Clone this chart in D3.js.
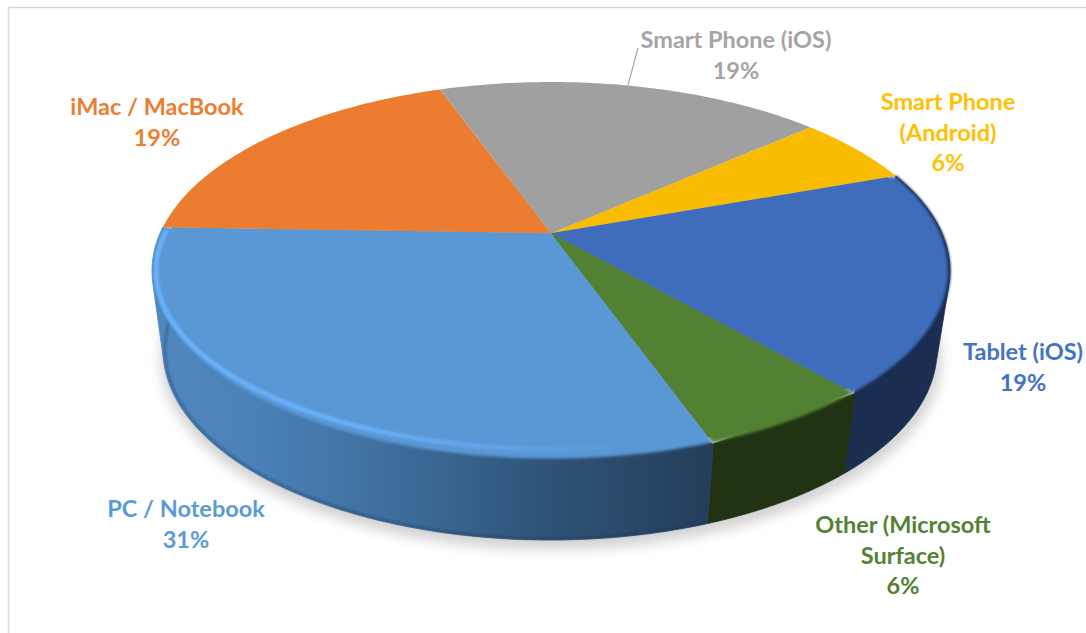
<!DOCTYPE html>
<html>
<head>
<meta charset="utf-8">
<script src="https://cdnjs.cloudflare.com/ajax/libs/d3/7.8.5/d3.min.js"></script>
<style>
  html, body { margin: 0; padding: 0; background: #fff; }
  svg { display: block; }
  text { font-family: Lato, "Open Sans", sans-serif; font-weight: 700; font-size: 23.5px; text-anchor: middle; }
</style>
</head>
<body>
<div id="canvas"></div>
<script>
// slices, clockwise from the PC / Other boundary
const categories = ["PC / Notebook", "iMac / MacBook", "Smart Phone (iOS)", "Smart Phone (Android)", "Tablet (iOS)", "Other (Microsoft Surface)"];
const values = [31, 19, 19, 6, 19, 6];
const labelLines = [
  ["PC / Notebook"],
  ["iMac / MacBook"],
  ["Smart Phone (iOS)"],
  ["Smart Phone", "(Android)"],
  ["Tablet (iOS)"],
  ["Other (Microsoft", "Surface)"]
];

const faceColors = ["#5a97d5", "#eb7c30", "#a0a0a0", "#f9bc00", "#3f6dbc", "#538133"];
const textColors = ["#5b9bd5", "#ed7d31", "#a5a5a5", "#ffc000", "#4472c4", "#548235"];
const sideColors = ["url(#pcSide)", "#a8551f", "#6e6e6e", "#ad8500", "#1b2d50", "#213312"];
const labelX = [186, 157, 736, 948, 1023, 903];
const labelY = [517, 115, 48, 110, 360, 533];

const width = 1086;
const height = 633;
const lineGap = 30.5;
const tilt = -0.2;      // where the pie centre sits inside the ellipse
const startDeg = 160.3;

const svg = d3.select("#canvas").append("svg").attr("width", width).attr("height", height);
const defs = svg.append("defs");

function blur(id, dev) {
  defs.append("filter").attr("id", id)
    .attr("color-interpolation-filters", "sRGB")
    .attr("x", "-10%").attr("y", "-10%").attr("width", "120%").attr("height", "120%")
    .append("feGaussianBlur").attr("stdDeviation", dev);
}
blur("soft8", 6);
blur("soft2", 1.6);
blur("soft1", 0.9);

const pcSide = defs.append("linearGradient").attr("id", "pcSide")
  .attr("gradientUnits", "userSpaceOnUse").attr("x1", 152).attr("x2", 712).attr("y1", 0).attr("y2", 0);
[[0, "#5088c0"], [0.2, "#4a80b6"], [0.45, "#3d6c9a"], [0.7, "#2f5477"], [1, "#243e5a"]].forEach(s =>
  pcSide.append("stop").attr("offset", s[0]).attr("stop-color", s[1]));

const hiFade = defs.append("linearGradient").attr("id", "hiFade")
  .attr("gradientUnits", "userSpaceOnUse").attr("x1", 152).attr("x2", 640).attr("y1", 0).attr("y2", 0);
[[0, 1], [0.4, 0.95], [0.7, 0.5], [1, 0]].forEach(s =>
  hiFade.append("stop").attr("offset", s[0]).attr("stop-color", "#69b1f7").attr("stop-opacity", s[1]));

// scales from the unit disc to the screen: top face, base, highlight on the bevel
const rim = { x: d3.scaleLinear([-1, 1], [152, 950]), y: d3.scaleLinear([-1, 1], [82, 460]) };
const base = { x: d3.scaleLinear([-1, 1], [163, 937]), y: d3.scaleLinear([-1, 1], [160, 540]) };
const bevel = { x: d3.scaleLinear([-1, 1], [156, 946]), y: d3.scaleLinear([-1, 1], [93, 449]) };
const ground = { x: d3.scaleLinear([-1, 1], [160, 942]), y: d3.scaleLinear([-1, 1], [168, 550]) };

// perspective: moves the disc centre up but keeps the rim on the ellipse
function project(scale, angle, r) {
  const u = r * Math.sin(angle);
  const v = -r * Math.cos(angle);
  const d = 1 + tilt * v;
  return [scale.x(u * Math.sqrt(1 - tilt * tilt) / d), scale.y((v + tilt) / d)];
}

function arcPoints(scale, a0, a1, r) {
  return d3.range(0, 61).map(i => project(scale, a0 + (a1 - a0) * i / 60, r));
}

const line = d3.line();
const start = startDeg * Math.PI / 180;
const slices = d3.pie().sort(null).startAngle(start).endAngle(start + 2 * Math.PI)(values);

const facePath = (d, r) => line([project(rim, 0, 0), ...arcPoints(rim, d.startAngle, d.endAngle, r)]) + "Z";
// hull, so the wall also fills the silhouette where the two rims cross
const sidePath = d => line(d3.polygonHull([...arcPoints(rim, d.startAngle, d.endAngle, 1), ...arcPoints(base, d.startAngle, d.endAngle, 1)])) + "Z";

// shadow on the ground
svg.append("path")
  .attr("d", line(arcPoints(ground, 0, 2 * Math.PI, 1)) + "Z")
  .attr("fill", "#d4d4d4")
  .attr("filter", "url(#soft8)");

// side walls, only the slices that face the viewer (stroke closes the seams)
const frontFaces = [4, 5, 0];
svg.append("g").selectAll("path").data(frontFaces).join("path")
  .attr("d", i => sidePath(slices[i]))
  .attr("fill", i => sideColors[i])
  .attr("stroke", i => sideColors[i])
  .attr("stroke-width", 0.8);

// darker lip along the bottom of the wall
svg.append("path")
  .attr("d", line(arcPoints(base, slices[0].startAngle, slices[0].endAngle, 0.995)))
  .attr("fill", "none")
  .attr("stroke", "#1c3652")
  .attr("stroke-opacity", 0.45)
  .attr("stroke-width", 2)
  .attr("filter", "url(#soft1)");

// thin dark rim at the back of the tablet slice
svg.append("path")
  .attr("d", line(arcPoints(rim, slices[4].startAngle, slices[4].endAngle, 1)))
  .attr("fill", "none")
  .attr("stroke", "#1b2d50")
  .attr("stroke-width", 1.5)
  .attr("filter", "url(#soft1)");

// front faces get a soft edge against the wall, then a crisp copy on top
svg.append("g").selectAll("path").data(frontFaces).join("path")
  .attr("d", i => facePath(slices[i], 0.995))
  .attr("fill", i => faceColors[i])
  .attr("filter", "url(#soft2)");

svg.append("g").selectAll("path").data(slices).join("path")
  .attr("d", (d, i) => facePath(d, frontFaces.includes(i) ? 0.975 : 1))
  .attr("fill", (d, i) => faceColors[i]);

// highlight along the PC slice bevel
svg.append("path")
  .attr("d", line(arcPoints(bevel, slices[0].startAngle, slices[0].endAngle, 1)))
  .attr("fill", "none")
  .attr("stroke", "url(#hiFade)")
  .attr("stroke-width", 5)
  .attr("filter", "url(#soft1)");

// leader for the Smart Phone (iOS) label
const leaderFrom = project(rim, (slices[2].startAngle + slices[2].endAngle) / 2 - 0.016, 1);
svg.append("line")
  .attr("x1", leaderFrom[0]).attr("y1", leaderFrom[1])
  .attr("x2", labelX[2] - 98).attr("y2", labelY[2])
  .attr("stroke", "#a6a6a6")
  .attr("stroke-width", 1.2);

// labels
const labels = svg.append("g").selectAll("text").data(categories).join("text")
  .attr("fill", (d, i) => textColors[i])
  .attr("transform", (d, i) => `translate(${labelX[i]},${labelY[i]})`);

labels.each(function (d, i) {
  const rows = [...labelLines[i], values[i] + "%"];
  d3.select(this).selectAll("tspan").data(rows).join("tspan")
    .attr("x", 0)
    .attr("y", (r, k) => k * lineGap)
    .text(r => r);
});

// chart frame: only the top and left edges are in the picture
svg.append("line").attr("x1", 8.5).attr("y1", 7.5).attr("x2", width).attr("y2", 7.5).attr("stroke", "#d9d9d9").attr("stroke-width", 1.5);
svg.append("line").attr("x1", 8.5).attr("y1", 7.5).attr("x2", 8.5).attr("y2", height).attr("stroke", "#d9d9d9").attr("stroke-width", 1.5);
</script>
</body>
</html>
